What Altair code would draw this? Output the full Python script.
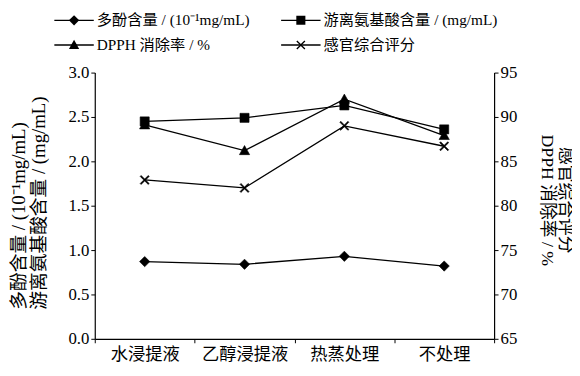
import math
import altair as alt
import pandas as pd

categories = ["水浸提液", "乙醇浸提液", "热蒸处理", "不处理"]
polyphenol = [0.87, 0.84, 0.93, 0.82]
amino_acid = [2.45, 2.49, 2.63, 2.36]
dpph = [89.1, 86.2, 92.0, 87.9]
sensory = [82.9, 82.0, 89.0, 86.7]

series_names = ["多酚含量 / (10⁻¹mg/mL)", "游离氨基酸含量 / (mg/mL)", "DPPH 消除率 / %", "感官综合评分"]
series_ids = ["s0", "s1", "s2", "s3"]
series_values = [polyphenol, amino_acid, dpph, sensory]
series_axis = ["left", "left", "right", "right"]

left_ticks = [0.0, 0.5, 1.0, 1.5, 2.0, 2.5, 3.0]
right_ticks = [65, 70, 75, 80, 85, 90, 95]

rows = []
for sid, name, vals, ax in zip(series_ids, series_names, series_values, series_axis):
    for c, v in zip(categories, vals):
        rows.append({"category": c, "value": v, "series": name, "series_id": sid, "axis": ax})
df = pd.DataFrame(rows)

FONT = "Liberation Serif, Noto Sans CJK SC, serif"


def x_marker(arm=0.29, half=0.033):
    """Filled 'x' outline (plus sign turned 45 degrees), in symbol units."""
    a, t = arm, half
    plus = [(-t, -a), (t, -a), (t, -t), (a, -t), (a, t), (t, t), (t, a), (-t, a),
            (-t, t), (-a, t), (-a, -t), (-t, -t)]
    s = 1 / math.sqrt(2)
    pts = [((x - y) * s, (x + y) * s) for x, y in plus]
    return "M" + "L".join(f"{x:.4f},{y:.4f}" for x, y in pts) + "Z"


# marker outlines in symbol units (drawn at a symbol size of 1600)
shape_range = [
    "M0,-0.26L0.26,0L0,0.26L-0.26,0Z",
    "M-0.23,-0.23L0.23,-0.23L0.23,0.23L-0.23,0.23Z",
    "M0,-0.26L0.26,0.2L-0.26,0.2Z",
    x_marker(),
]
SYM = 1600

label_map = "{" + ", ".join(f"'{i}': '{n}'" for i, n in zip(series_ids, series_names)) + "}"

x_enc = alt.X(
    "category:N", sort=categories, title=None,
    scale=alt.Scale(type="band", paddingInner=0, paddingOuter=0),
    axis=alt.Axis(tickBand="extent", labelAngle=0, labelFontSize=17.5, tickSize=4,
                  labelPadding=3),
)

y_left = alt.Y(
    "value:Q",
    scale=alt.Scale(domain=[0, 3], nice=False, zero=False),
    axis=alt.Axis(values=left_ticks, format=".1f", tickSize=4, labelFontSize=17,
                  title=["多酚含量 / (10⁻¹mg/mL)", "游离氨基酸含量 / (mg/mL)"],
                  titleFontSize=19, titleLineHeight=20, titlePadding=20,
                  titleFontWeight="normal", titleAlign="left", titleY=240),
)
y_right = alt.Y(
    "value:Q",
    scale=alt.Scale(domain=[65, 95], nice=False, zero=False),
    axis=alt.Axis(orient="right", values=right_ticks, format="d", tickSize=4, labelFontSize=17,
                  title=["感官综合评分", "DPPH 消除率 / %"],
                  titleFontSize=18, titleLineHeight=18, titlePadding=21,
                  titleFontWeight="normal", titleY=129),
)

legend_common = dict(
    title=None, orient="none", direction="horizontal", legendX=-42, legendY=-62,
    columns=2, columnPadding=30, rowPadding=7, clipHeight=18, symbolSize=SYM,
    symbolStrokeWidth=1.3, symbolStrokeColor="black", labelFont=FONT, labelFontSize=15.5,
    labelOffset=2, labelLimit=400,
)
line_legend = alt.Legend(symbolType="stroke", labelColor="black",
                         labelExpr=f"{label_map}[datum.value]", **legend_common)
point_legend = alt.Legend(symbolFillColor="black", labelOpacity=0, **legend_common)

color_enc = alt.Color("series_id:N", scale=alt.Scale(domain=series_ids, range=["black"] * 4),
                      legend=line_legend)
shape_enc = alt.Shape("series:N", scale=alt.Scale(domain=series_names, range=shape_range),
                      legend=point_legend)

base = alt.Chart(df)
line = base.mark_line(strokeWidth=1.3).encode(x=x_enc, color=color_enc)
pts = base.mark_point(fill="black", stroke="black", strokeWidth=0.6, opacity=1, size=SYM).encode(
    x=x_enc, shape=shape_enc)

left_layer = alt.layer(line.encode(y=y_left), pts.encode(y=y_left)).transform_filter(
    alt.datum.axis == "left")
right_layer = alt.layer(line.encode(y=y_right), pts.encode(y=y_right)).transform_filter(
    alt.datum.axis == "right")

chart = alt.layer(left_layer, right_layer).resolve_scale(y="independent").properties(
    width=405, height=270,
    autosize=alt.AutoSizeParams(type="none"),
    padding={"left": 88, "top": 63, "right": 79, "bottom": 21},
    background="white",
).configure_view(stroke=None).configure_axis(
    grid=False, domainColor="black", tickColor="black", labelColor="black", titleColor="black",
    labelFont=FONT, titleFont=FONT, titleFontWeight="normal", domainWidth=1.2,
)

chart.save("out.html", embed_options={"renderer": "svg", "actions": False})
